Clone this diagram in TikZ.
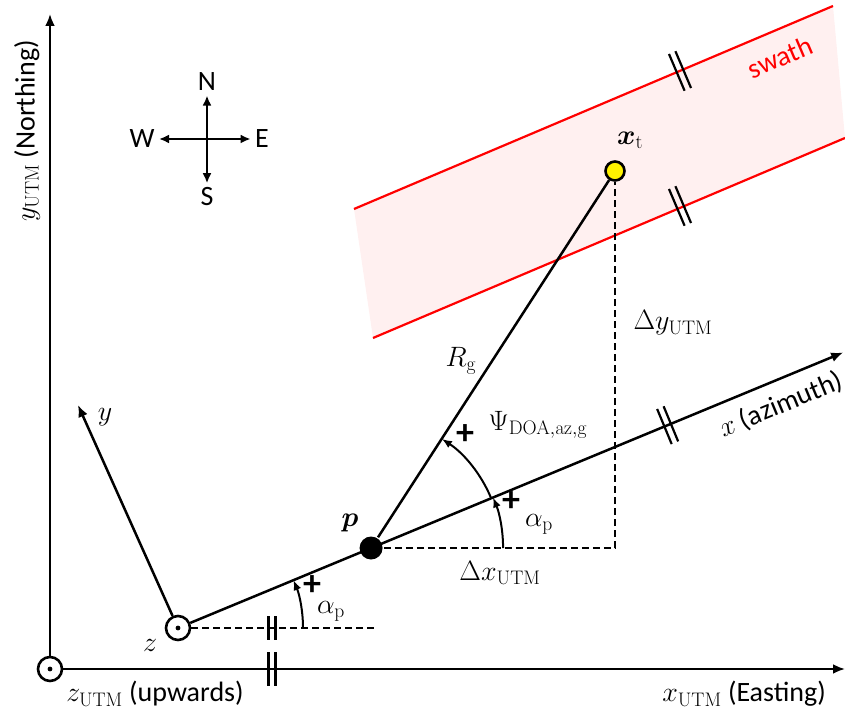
\RequirePackage{fix-cm}
\documentclass[tikz,border=0pt]{standalone}
\usepackage{amsmath}
\usepackage[no-math]{fontspec}
\setmainfont{Carlito}
\usetikzlibrary{arrows.meta,calc}
\tikzset{every picture/.style={line width=2.5pt}}

\begin{document}
\begin{tikzpicture}[x=1pt, y=1pt, >={Latex[length=12pt,width=10pt]},
        every node/.style={font=\fontsize{28}{32}\selectfont},
        axis/.style={->, line width=2.8pt},
        angarc/.style={->, line width=2pt, >={Latex[length=10pt,width=8pt]}},
        tick/.style={line width=2.2pt},
        plus/.style={font=\fontsize{36}{40}\selectfont\bfseries},
        swline/.style={red, line width=2.2pt}]
        \useasboundingbox (0,0) rectangle (845,711);
        % swath
        \fill[red!6] (354,502) -- (833,705) -- (845,573) -- (373,373) -- cycle;
        \draw[swline] (354,502) -- (833,705);
        \draw[swline] (373,373) -- (845,573);
        \node[red, rotate=23] (sw) at (780,654) {swath};
        % UTM frame
        \node[circle, draw, line width=2.6pt, minimum size=24pt, inner sep=0pt] (O) at (50,42) {};
        \fill (O) circle (2.4);
        \coordinate (Xend) at (845,42);
        \coordinate (Yend) at (50,697);
        \draw[axis] (O) -- (Xend);
        \draw[axis] (O) -- (Yend);
        \node[rotate=90] (ylab) at (27,580) {$y_{\mathrm{UTM}}$ (Northing)};
        \node (zlab) at (155,17) {$z_{\mathrm{UTM}}$ (upwards)};
        \node (xlab) at (744,17) {$x_{\mathrm{UTM}}$ (Easting)};
        % compass
        \node (N) at (207,629) {N};
        \node (S) at (207,514) {S};
        \node (W) at (142,572) {W};
        \node (E) at (262,572) {E};
        \draw[<->, >={Latex[length=10pt,width=9pt]}] (W) -- (E);
        \draw[<->, >={Latex[length=10pt,width=9pt]}] (N) -- (S);
        % platform frame
        \node[circle, draw, line width=2.6pt, minimum size=24pt, inner sep=0pt] (z) at (178,83) {};
        \fill (z) circle (2.4);
        \node[circle, fill, minimum size=23pt, inner sep=0pt] (p) at ($(z)+(22.5:209)$) {};
        \node[circle, draw, fill=yellow, line width=2.6pt, minimum size=19pt, inner sep=0pt] (xt) at (615,540) {};
        \coordinate (xaz) at ($(z)+(22.5:720)$);
        \coordinate (yz) at (78,306);
        \coordinate (zd) at (375,83);
        \draw[->] (z) -- (yz);
        \draw[->] (z) -- (xaz);
        \draw[dashed, dash pattern=on 7pt off 4pt] (z) -- (zd);
        \draw (p) -- (xt);
        \draw[dashed, dash pattern=on 7pt off 4pt] (p) -- (p -| xt) -- (xt);
        \node (zn) at (150,66) {$z$};
        \node (yn) at (105,294) {$y$};
        \node (pn) at (350,188) {$\boldsymbol{p}$};
        \node (xtn) at (630,571) {$\boldsymbol{x}_{\mathrm{t}}$};
        \node (Rg) at (461,350) {$R_{\mathrm{g}}$};
        \node (dy) at (673,388) {$\Delta y_{\mathrm{UTM}}$};
        \node (dx) at (500,138) {$\Delta x_{\mathrm{UTM}}$};
        \node[rotate=22.5] (azl) at (781,306) {$x$ (azimuth)};
        % angles
        \draw[angarc] ($(z)+(125,0)$) arc[start angle=0, end angle=22.5, radius=125];
        \draw[angarc] ($(p)+(132,0)$) arc[start angle=0, end angle=22.5, radius=132];
        \draw[angarc] ($(p)+(22.5:130)$) arc[start angle=22.5, end angle=57, radius=130];
        \node[plus] (pl1) at (312,125) {+};
        \node (al1) at (331,100) {$\alpha_{\mathrm{p}}$};
        \node[plus] (pl2) at (511,209) {+};
        \node (al2) at (539,187) {$\alpha_{\mathrm{p}}$};
        \node[plus] (pl3) at (465,276) {+};
        \node (psi) at (538,286) {$\Psi_{\mathrm{DOA,az,g}}$};
        % double ticks
        \coordinate (t1) at (272,42);
        \coordinate (t2) at (272,83);
        \coordinate (t3) at ($(z)+(22.5:530)$);
        \coordinate (t4) at (680,640);
        \coordinate (t5) at (680,505);
        \foreach \s in {-3.5,3.5} {
            \draw[tick] ($(t1)+(\s,-17)$) -- ++(0,34);
            \draw[tick] ($(t2)+(\s,-12)$) -- ++(0,24);
            \draw[tick] ($(t3)+(22.5:\s)+(112.5:-19)$) -- ++(112.5:38);
            \draw[tick] ($(t4)+(23:\s)+(113:-20)$) -- ++(113:40);
            \draw[tick] ($(t5)+(23:\s)+(113:-20)$) -- ++(113:40);
        }
    \end{tikzpicture}
\end{document}
